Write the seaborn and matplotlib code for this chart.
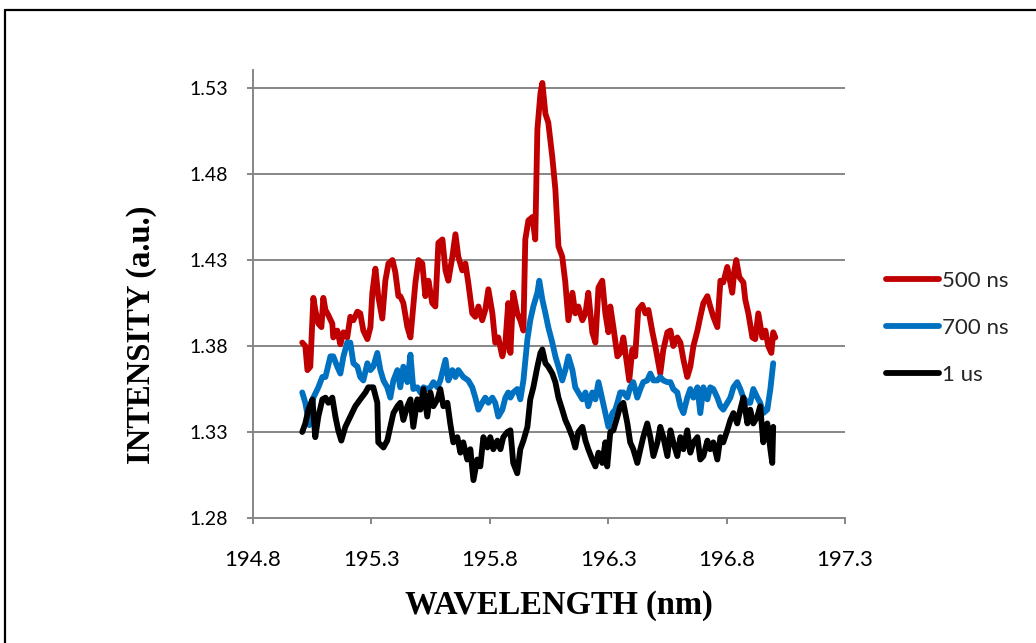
import matplotlib
matplotlib.use("Agg")
import matplotlib.pyplot as plt
from matplotlib.lines import Line2D
import pandas as pd
import seaborn as sns

# Emission spectra recorded at three gate delays
wl_500ns = [195.008, 195.021, 195.030, 195.042, 195.055, 195.063, 195.076, 195.089, 195.097, 195.106,
            195.118, 195.135, 195.139, 195.156, 195.169, 195.182, 195.198, 195.211, 195.224, 195.241,
            195.253, 195.266, 195.283, 195.296, 195.304, 195.317, 195.329, 195.346, 195.359, 195.372,
            195.389, 195.401, 195.414, 195.422, 195.435, 195.452, 195.465, 195.477, 195.486, 195.499,
            195.515, 195.528, 195.541, 195.557, 195.570, 195.583, 195.600, 195.613, 195.625, 195.642,
            195.655, 195.667, 195.684, 195.697, 195.709, 195.726, 195.739, 195.752, 195.768, 195.781,
            195.794, 195.811, 195.823, 195.836, 195.853, 195.866, 195.878, 195.887, 195.899, 195.916,
            195.929, 195.942, 195.950, 195.963, 195.980, 195.992, 196.001, 196.014, 196.022, 196.035,
            196.047, 196.064, 196.077, 196.090, 196.106, 196.119, 196.132, 196.149, 196.161, 196.174,
            196.191, 196.204, 196.216, 196.233, 196.246, 196.259, 196.275, 196.288, 196.301, 196.309,
            196.322, 196.339, 196.351, 196.364, 196.381, 196.389, 196.402, 196.414, 196.427, 196.444,
            196.457, 196.470, 196.487, 196.499, 196.512, 196.520, 196.533, 196.550, 196.563, 196.575,
            196.592, 196.605, 196.618, 196.634, 196.647, 196.660, 196.677, 196.689, 196.702, 196.719,
            196.731, 196.744, 196.761, 196.774, 196.786, 196.803, 196.824, 196.833, 196.841, 196.854,
            196.871, 196.879, 196.892, 196.909, 196.921, 196.934, 196.951, 196.964, 196.976, 196.989,
            196.997, 197.006]
int_500ns = [1.382, 1.380, 1.366, 1.368, 1.408, 1.401, 1.393, 1.391, 1.408, 1.401,
             1.398, 1.393, 1.385, 1.389, 1.381, 1.388, 1.385, 1.397, 1.395, 1.400,
             1.399, 1.389, 1.384, 1.391, 1.411, 1.425, 1.409, 1.396, 1.418, 1.428,
             1.430, 1.423, 1.409, 1.409, 1.405, 1.391, 1.385, 1.403, 1.417, 1.430,
             1.428, 1.409, 1.418, 1.405, 1.403, 1.440, 1.442, 1.424, 1.418, 1.432,
             1.445, 1.432, 1.424, 1.428, 1.417, 1.399, 1.397, 1.403, 1.395, 1.401,
             1.413, 1.399, 1.382, 1.385, 1.374, 1.382, 1.405, 1.376, 1.411, 1.399,
             1.395, 1.389, 1.442, 1.453, 1.455, 1.442, 1.506, 1.527, 1.533, 1.515,
             1.510, 1.490, 1.471, 1.438, 1.432, 1.417, 1.395, 1.411, 1.399, 1.403,
             1.395, 1.399, 1.411, 1.388, 1.382, 1.414, 1.418, 1.399, 1.388, 1.403,
             1.391, 1.374, 1.376, 1.385, 1.368, 1.360, 1.378, 1.374, 1.401, 1.404,
             1.399, 1.401, 1.388, 1.380, 1.370, 1.364, 1.378, 1.388, 1.389, 1.380,
             1.385, 1.382, 1.372, 1.362, 1.368, 1.380, 1.389, 1.397, 1.405, 1.409,
             1.403, 1.397, 1.391, 1.418, 1.417, 1.426, 1.411, 1.424, 1.430, 1.420,
             1.417, 1.407, 1.399, 1.385, 1.384, 1.399, 1.385, 1.389, 1.380, 1.376,
             1.388, 1.385]

wl_700ns = [195.008, 195.021, 195.038, 195.055, 195.076, 195.093, 195.106, 195.127, 195.139, 195.156,
            195.169, 195.182, 195.198, 195.211, 195.224, 195.241, 195.253, 195.266, 195.283, 195.296,
            195.308, 195.325, 195.338, 195.351, 195.367, 195.380, 195.393, 195.410, 195.422, 195.435,
            195.452, 195.465, 195.477, 195.494, 195.507, 195.520, 195.536, 195.549, 195.562, 195.579,
            195.591, 195.613, 195.625, 195.642, 195.655, 195.667, 195.688, 195.709, 195.726, 195.739,
            195.752, 195.768, 195.781, 195.794, 195.811, 195.823, 195.836, 195.853, 195.866, 195.878,
            195.887, 195.899, 195.916, 195.929, 195.942, 195.959, 195.971, 195.984, 196.001, 196.009,
            196.022, 196.035, 196.047, 196.064, 196.077, 196.090, 196.106, 196.119, 196.132, 196.149,
            196.161, 196.174, 196.191, 196.204, 196.216, 196.233, 196.246, 196.259, 196.275, 196.288,
            196.301, 196.318, 196.330, 196.339, 196.351, 196.364, 196.381, 196.393, 196.406, 196.423,
            196.436, 196.448, 196.465, 196.478, 196.491, 196.508, 196.520, 196.533, 196.550, 196.563,
            196.575, 196.592, 196.605, 196.618, 196.634, 196.647, 196.660, 196.677, 196.689, 196.702,
            196.719, 196.731, 196.744, 196.761, 196.774, 196.786, 196.803, 196.816, 196.829, 196.845,
            196.858, 196.871, 196.888, 196.900, 196.913, 196.930, 196.942, 196.955, 196.972, 196.985,
            196.997]
int_700ns = [1.353, 1.347, 1.334, 1.350, 1.356, 1.362, 1.362, 1.374, 1.374, 1.368,
             1.364, 1.374, 1.382, 1.382, 1.370, 1.368, 1.362, 1.360, 1.370, 1.366,
             1.368, 1.376, 1.366, 1.360, 1.356, 1.350, 1.360, 1.366, 1.356, 1.368,
             1.359, 1.375, 1.355, 1.356, 1.353, 1.356, 1.355, 1.356, 1.359, 1.356,
             1.360, 1.372, 1.360, 1.366, 1.362, 1.366, 1.362, 1.360, 1.356, 1.350,
             1.343, 1.347, 1.350, 1.347, 1.350, 1.347, 1.339, 1.343, 1.350, 1.353,
             1.350, 1.353, 1.355, 1.349, 1.360, 1.384, 1.395, 1.403, 1.411, 1.418,
             1.407, 1.399, 1.391, 1.382, 1.374, 1.368, 1.360, 1.366, 1.374, 1.366,
             1.356, 1.353, 1.349, 1.353, 1.345, 1.353, 1.349, 1.359, 1.349, 1.341,
             1.333, 1.341, 1.343, 1.347, 1.353, 1.353, 1.350, 1.356, 1.359, 1.350,
             1.355, 1.359, 1.360, 1.364, 1.360, 1.360, 1.362, 1.360, 1.359, 1.359,
             1.355, 1.353, 1.345, 1.341, 1.350, 1.355, 1.350, 1.356, 1.341, 1.356,
             1.349, 1.356, 1.355, 1.350, 1.345, 1.343, 1.347, 1.350, 1.356, 1.359,
             1.355, 1.350, 1.347, 1.347, 1.355, 1.350, 1.347, 1.341, 1.343, 1.355,
             1.370]

wl_1us = [195.008, 195.021, 195.034, 195.051, 195.063, 195.076, 195.093, 195.106, 195.118, 195.135,
          195.148, 195.160, 195.173, 195.190, 195.211, 195.232, 195.253, 195.275, 195.287, 195.308,
          195.325, 195.329, 195.351, 195.367, 195.380, 195.393, 195.410, 195.422, 195.435, 195.452,
          195.465, 195.477, 195.494, 195.507, 195.520, 195.536, 195.549, 195.562, 195.579, 195.591,
          195.604, 195.621, 195.633, 195.646, 195.663, 195.676, 195.688, 195.705, 195.718, 195.731,
          195.747, 195.760, 195.773, 195.790, 195.802, 195.815, 195.832, 195.845, 195.857, 195.874,
          195.887, 195.899, 195.916, 195.929, 195.942, 195.959, 195.971, 195.984, 196.001, 196.014,
          196.022, 196.035, 196.047, 196.064, 196.077, 196.090, 196.106, 196.119, 196.132, 196.149,
          196.161, 196.174, 196.191, 196.204, 196.216, 196.233, 196.246, 196.259, 196.275, 196.288,
          196.296, 196.309, 196.322, 196.339, 196.351, 196.364, 196.381, 196.393, 196.406, 196.423,
          196.436, 196.448, 196.465, 196.478, 196.491, 196.508, 196.520, 196.533, 196.550, 196.563,
          196.575, 196.592, 196.605, 196.618, 196.634, 196.647, 196.660, 196.677, 196.689, 196.702,
          196.719, 196.731, 196.744, 196.761, 196.774, 196.786, 196.803, 196.816, 196.829, 196.845,
          196.858, 196.871, 196.888, 196.900, 196.913, 196.930, 196.942, 196.955, 196.972, 196.985,
          196.993, 196.997]
int_1us = [1.330, 1.335, 1.343, 1.349, 1.327, 1.339, 1.349, 1.350, 1.347, 1.350,
           1.339, 1.331, 1.325, 1.333, 1.339, 1.345, 1.349, 1.353, 1.356, 1.356,
           1.347, 1.324, 1.321, 1.325, 1.333, 1.341, 1.345, 1.347, 1.337, 1.345,
           1.349, 1.333, 1.349, 1.343, 1.355, 1.339, 1.353, 1.345, 1.349, 1.355,
           1.345, 1.347, 1.335, 1.324, 1.327, 1.318, 1.324, 1.314, 1.320, 1.302,
           1.314, 1.310, 1.327, 1.321, 1.327, 1.320, 1.325, 1.320, 1.327, 1.330,
           1.331, 1.312, 1.306, 1.320, 1.325, 1.333, 1.349, 1.356, 1.368, 1.376,
           1.378, 1.370, 1.368, 1.364, 1.359, 1.350, 1.343, 1.337, 1.333, 1.327,
           1.321, 1.330, 1.333, 1.325, 1.320, 1.314, 1.310, 1.318, 1.312, 1.324,
           1.310, 1.330, 1.331, 1.339, 1.345, 1.347, 1.335, 1.324, 1.320, 1.312,
           1.320, 1.327, 1.335, 1.327, 1.316, 1.324, 1.333, 1.327, 1.316, 1.331,
           1.324, 1.316, 1.327, 1.320, 1.331, 1.318, 1.324, 1.327, 1.314, 1.316,
           1.325, 1.320, 1.324, 1.314, 1.327, 1.324, 1.331, 1.337, 1.341, 1.335,
           1.343, 1.350, 1.335, 1.343, 1.335, 1.339, 1.345, 1.324, 1.335, 1.320,
           1.312, 1.333]

series_names = ["500 ns", "700 ns", "1 us"]
series_colors = ["#C00000", "#0070C0", "#000000"]
x_ticks = [194.8, 195.3, 195.8, 196.3, 196.8, 197.3]
y_ticks = [1.28, 1.33, 1.38, 1.43, 1.48, 1.53]

frames = []
for name, wl, inten in zip(series_names,
                           [wl_500ns, wl_700ns, wl_1us],
                           [int_500ns, int_700ns, int_1us]):
    frames.append(pd.DataFrame({"wavelength": wl, "intensity": inten, "delay": name}))
df = pd.concat(frames, ignore_index=True)

sns.set_theme(style="white")
plt.rcParams["font.family"] = ["Lato", "DejaVu Sans"]

fig = plt.figure(figsize=(10.36, 6.43), dpi=100)
ax = fig.add_axes([0.2442, 0.1944, 0.5714, 0.6967])

grid_color = "#868686"
for yv in y_ticks[1:]:
    ax.axhline(yv, color=grid_color, lw=1.4, zorder=0)

sns.lineplot(data=df, x="wavelength", y="intensity", hue="delay",
             hue_order=series_names, palette=series_colors,
             sort=False, estimator=None, linewidth=4.2, ax=ax,
             solid_joinstyle="round", solid_capstyle="round")

ax.set_xlim(194.8, 197.3)
ax.set_ylim(1.28, 1.5405)
ax.set_xticks(x_ticks)
ax.set_xticklabels([f"{v:.1f}" for v in x_ticks])
ax.set_yticks(y_ticks)
ax.set_yticklabels([f"{v:.2f}" for v in y_ticks])

for side in ["top", "right"]:
    ax.spines[side].set_visible(False)
for side in ["left", "bottom"]:
    ax.spines[side].set_color(grid_color)
    ax.spines[side].set_linewidth(1.4)

ax.tick_params(axis="x", which="major", direction="out", length=4, width=1.4,
               color=grid_color, pad=19, labelsize=16, labelcolor="#000000", bottom=True)
ax.tick_params(axis="y", which="major", direction="out", length=4, width=1.4,
               color=grid_color, pad=14, labelsize=14, labelcolor="#000000", left=True)

label_font = dict(family="Liberation Serif", weight="bold", size=23.5, color="#000000")
ax.set_xlabel("")
ax.set_ylabel("")
fig.text(0.539, 0.059, "WAVELENGTH (nm)", ha="center", va="center", **label_font)
fig.text(0.137, 0.479, "INTENSITY (a.u.)", ha="center", va="center", rotation=90, **label_font)

sns.move_legend(ax, loc="center left", bbox_to_anchor=(0.855, 0.49),
                bbox_transform=fig.transFigure, frameon=False, title=None,
                fontsize=16, handlelength=2.4, handletextpad=0.12,
                labelspacing=1.2, borderpad=0, borderaxespad=0)
for line in ax.get_legend().get_lines():
    line.set_linewidth(4.2)

# chart frame along the top and left edges
fig.add_artist(Line2D([0.0048, 0.0048], [0.0, 0.9844], transform=fig.transFigure,
                      color="#000000", lw=1.6))
fig.add_artist(Line2D([0.0048, 1.0], [0.9844, 0.9844], transform=fig.transFigure,
                      color="#000000", lw=1.6))

fig.savefig("out.png", dpi=100, facecolor="white")
